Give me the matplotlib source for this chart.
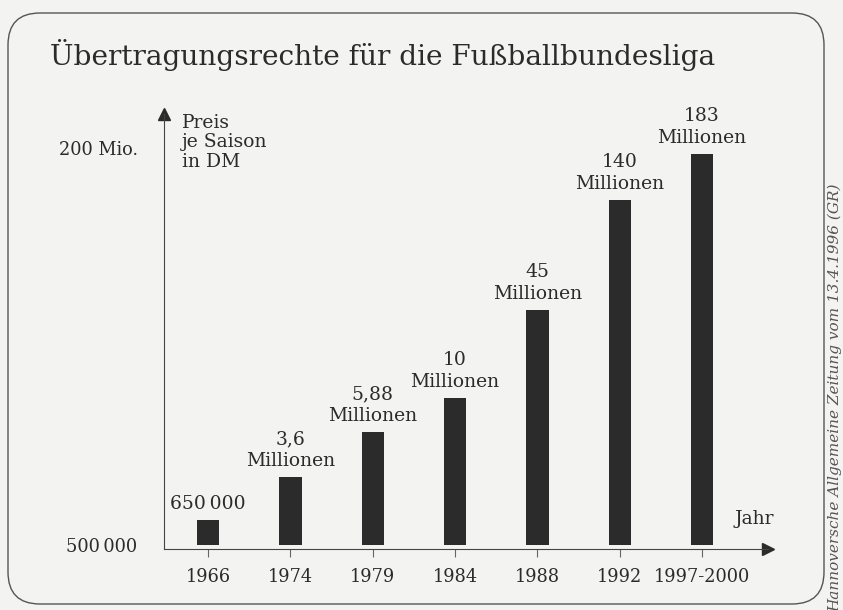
import matplotlib.pyplot as plt
from matplotlib.patches import FancyBboxPatch

# data (chart is drawn not to scale; heights, 200 = top tick)
years = ["1966", "1974", "1979", "1984", "1988", "1992", "1997-2000"]
bar_heights = [12.6, 34.3, 56.9, 74.1, 118.4, 173.8, 197.0]
value_labels = ["650\u2009000", "3,6\nMillionen", "5,88\nMillionen", "10\nMillionen",
                "45\nMillionen", "140\nMillionen", "183\nMillionen"]
ytick_pos = [0, 200]
ytick_labels = ["500\u2009000", "200 Mio."]

paper = "#f3f3f1"
ink = "#2b2b2b"
serif = "DejaVu Serif"

fig = plt.figure(figsize=(8.43, 6.10), dpi=100, facecolor=paper)

# background layer in pixel coordinates for frame, title and source
bg = fig.add_axes([0, 0, 1, 1])
bg.set_xlim(0, 843)
bg.set_ylim(610, 0)
bg.axis("off")
frame = FancyBboxPatch((8, 13), 816, 591, boxstyle="round,pad=0,rounding_size=32",
                       fill=False, edgecolor="#555555", linewidth=1.0)
bg.add_patch(frame)
bg.text(50, 55, "Übertragungsrechte für die Fußballbundesliga", family=serif,
        fontsize=20.2, color=ink, ha="left", va="center")
bg.text(835, 183, "Hannoversche Allgemeine Zeitung vom 13.4.1996 (GR)", family=serif,
        style="italic", fontsize=11, color="#555555", rotation=90,
        rotation_mode="anchor", ha="right", va="center")

# chart
ax = fig.add_axes([164 / 843, 61 / 610, (768 - 164) / 843, 435 / 610])
ax.set_facecolor("none")
x = list(range(len(years)))
ax.bar(x, bar_heights, width=0.27, color=ink)
for xi, h, lab in zip(x, bar_heights, value_labels):
    ax.text(xi, h + 3.5, lab, ha="center", va="bottom", family=serif,
            fontsize=13.5, color=ink, linespacing=1.25)

ax.set_xlim(-0.535, 6.80)
ax.set_ylim(-2, 217)
for s in ["top", "right"]:
    ax.spines[s].set_visible(False)
ax.spines["left"].set_color("#444444")
ax.spines["bottom"].set_color("#444444")
ax.spines["bottom"].set_position(("data", -2))

ax.set_xticks(x)
ax.set_xticklabels(years, family=serif, fontsize=12.8, color=ink)
ax.tick_params(axis="x", length=6, color="#666666", pad=8)
ax.set_yticks(ytick_pos)
ax.set_yticklabels(ytick_labels, family=serif, fontsize=12.8, color=ink)
ax.tick_params(axis="y", length=0, pad=19)

# arrow heads
ax.plot(0, 1, "^", color=ink, markersize=8, transform=ax.transAxes, clip_on=False)
ax.plot(1, -2, ">", color=ink, markersize=8, transform=ax.get_yaxis_transform(),
        clip_on=False)

ax.text(0.03, 1.0, "Preis\nje Saison\nin DM", transform=ax.transAxes, ha="left",
        va="top", family=serif, fontsize=13.5, color=ink, linespacing=1.1)
ax.text(0.945, 13, "Jahr", transform=ax.get_yaxis_transform(), ha="left",
        va="center", family=serif, fontsize=13.5, color=ink)

fig.savefig("out.png", dpi=100, facecolor=paper)
